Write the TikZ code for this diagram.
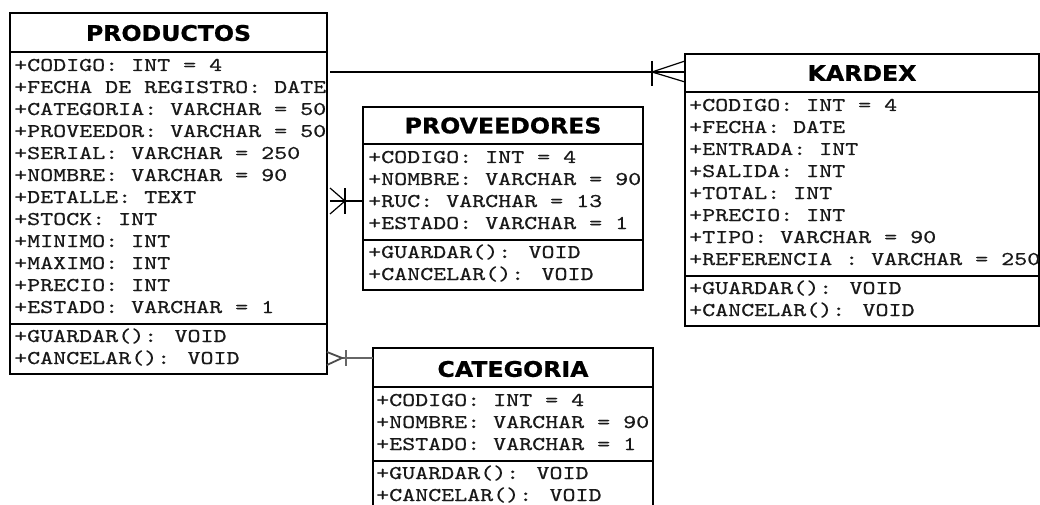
\documentclass[tikz,border=0pt]{standalone}
\usepackage{fontspec}
\usetikzlibrary{calc}
\newfontfamily\chdr{DejaVu Sans}[FakeStretch=1.1, FakeBold=0.8]
\newfontfamily\cmono{lmmono10-regular}[Extension=.otf, FakeStretch=1.27, FakeBold=0.6]
\tikzset{
  box/.style={draw, line width=2.5pt, inner sep=0pt, outer sep=0pt, anchor=north west},
  sepline/.style={line width=2.5pt},
  title/.style={font=\chdr\bfseries\fontsize{21.5}{24}\selectfont, inner sep=0pt, anchor=center},
  attr/.style={font=\cmono\fontsize{19.5}{22}\selectfont, text=black!90, inner sep=0pt, anchor=base west},
  rel/.style={line width=1.2pt},
  relgray/.style={line width=1.8pt, draw=black!60},
}
\newcommand\textrows[4]{%
  \foreach \txt [count=\i from 0] in {#4} {
    \node[attr] (#1\i) at (#2, {#3+22*\i}) {\txt};
  }%
}
\begin{document}
\begin{tikzpicture}[x=1pt,y=-1pt]
\useasboundingbox[fill=white] (0,0) rectangle (1040,505);

% ---------- PRODUCTOS ----------
\node[box, minimum width=317pt, minimum height=361pt] (prod) at (10,13) {};
\draw[sepline] (prod.west |- 0,52) -- (prod.east |- 0,52);
\draw[sepline] (prod.west |- 0,324) -- (prod.east |- 0,324);
\node[title] (prodT) at (168.5,33) {PRODUCTOS};
\textrows{pa}{14}{71}{{+CODIGO: INT = 4},{+FECHA DE REGISTRO: DATE},{+CATEGORIA: VARCHAR = 50},{+PROVEEDOR: VARCHAR = 50},{+SERIAL: VARCHAR = 250},{+NOMBRE: VARCHAR = 90},{+DETALLE: TEXT},{+STOCK: INT},{+MINIMO: INT},{+MAXIMO: INT},{+PRECIO: INT},{+ESTADO: VARCHAR = 1}}
\textrows{pm}{14}{342}{{+GUARDAR(): VOID},{+CANCELAR(): VOID}}

% ---------- PROVEEDORES ----------
\node[box, minimum width=280pt, minimum height=183pt] (prov) at (363,107) {};
\draw[sepline] (prov.west |- 0,144) -- (prov.east |- 0,144);
\draw[sepline] (prov.west |- 0,240) -- (prov.east |- 0,240);
\node[title] (provT) at (503,125.5) {PROVEEDORES};
\textrows{va}{368}{163}{{+CODIGO: INT = 4},{+NOMBRE: VARCHAR = 90},{+RUC: VARCHAR = 13},{+ESTADO: VARCHAR = 1}}
\textrows{vm}{368}{258}{{+GUARDAR(): VOID},{+CANCELAR(): VOID}}

% ---------- KARDEX ----------
\node[box, minimum width=354pt, minimum height=272pt] (kard) at (685,54) {};
\draw[sepline] (kard.west |- 0,92) -- (kard.east |- 0,92);
\draw[sepline] (kard.west |- 0,276) -- (kard.east |- 0,276);
\node[title] (kardT) at (862,73) {KARDEX};
\textrows{ka}{689}{111}{{+CODIGO: INT = 4},{+FECHA: DATE},{+ENTRADA: INT},{+SALIDA: INT},{+TOTAL: INT},{+PRECIO: INT},{+TIPO: VARCHAR = 90},{+REFERENCIA : VARCHAR = 250}}
\textrows{km}{689}{294}{{+GUARDAR(): VOID},{+CANCELAR(): VOID}}

% ---------- CATEGORIA ----------
\node[box, minimum width=280pt, minimum height=164pt] (cat) at (373,348) {};
\draw[sepline] (cat.west |- 0,387) -- (cat.east |- 0,387);
\draw[sepline] (cat.west |- 0,461) -- (cat.east |- 0,461);
\node[title] (catT) at (513,369) {CATEGORIA};
\textrows{ca}{376}{406}{{+CODIGO: INT = 4},{+NOMBRE: VARCHAR = 90},{+ESTADO: VARCHAR = 1}}
\textrows{cm}{376}{479}{{+GUARDAR(): VOID},{+CANCELAR(): VOID}}

% ---------- PRODUCTOS -- KARDEX ----------
\coordinate (k0) at ($(prod.east |- 0,72)+(3,0)$);
\coordinate (k1) at (kard.west |- 0,72);
\coordinate (kx) at ($(k1)+(-33,0)$);
\draw[rel] (k0) -- (k1);
\draw[rel] (kard.west |- 0,61) -- (kx) -- (kard.west |- 0,82);
\draw[rel] ($(kx)+(0,-11)$) -- ($(kx)+(0,14)$);

% ---------- PRODUCTOS -- PROVEEDORES ----------
\coordinate (v0) at ($(prod.east |- 0,201)+(3,0)$);
\coordinate (v1) at (prov.west |- 0,201);
\coordinate (vx) at ($(v0)+(15,0)$);
\draw[rel] (v0) -- (v1);
\draw[rel] ($(v0)+(0,-13)$) -- (vx) -- ($(v0)+(0,13)$);
\draw[rel] ($(vx)+(0,-13)$) -- ($(vx)+(0,13)$);

% ---------- PRODUCTOS -- CATEGORIA ----------
\coordinate (c0) at ($(prod.east |- 0,358)+(0,0)$);
\coordinate (c1) at (cat.west |- 0,358);
\coordinate (cx) at ($(c0)+(15,0)$);
\draw[relgray] (cx) -- (c1);
\draw[relgray, draw=black!70] ($(c0)+(0,-6)$) -- (cx) -- ($(c0)+(0,7)$);
\draw[relgray] ($(cx)+(4,-8)$) -- ($(cx)+(4,8)$);
\end{tikzpicture}
\end{document}
